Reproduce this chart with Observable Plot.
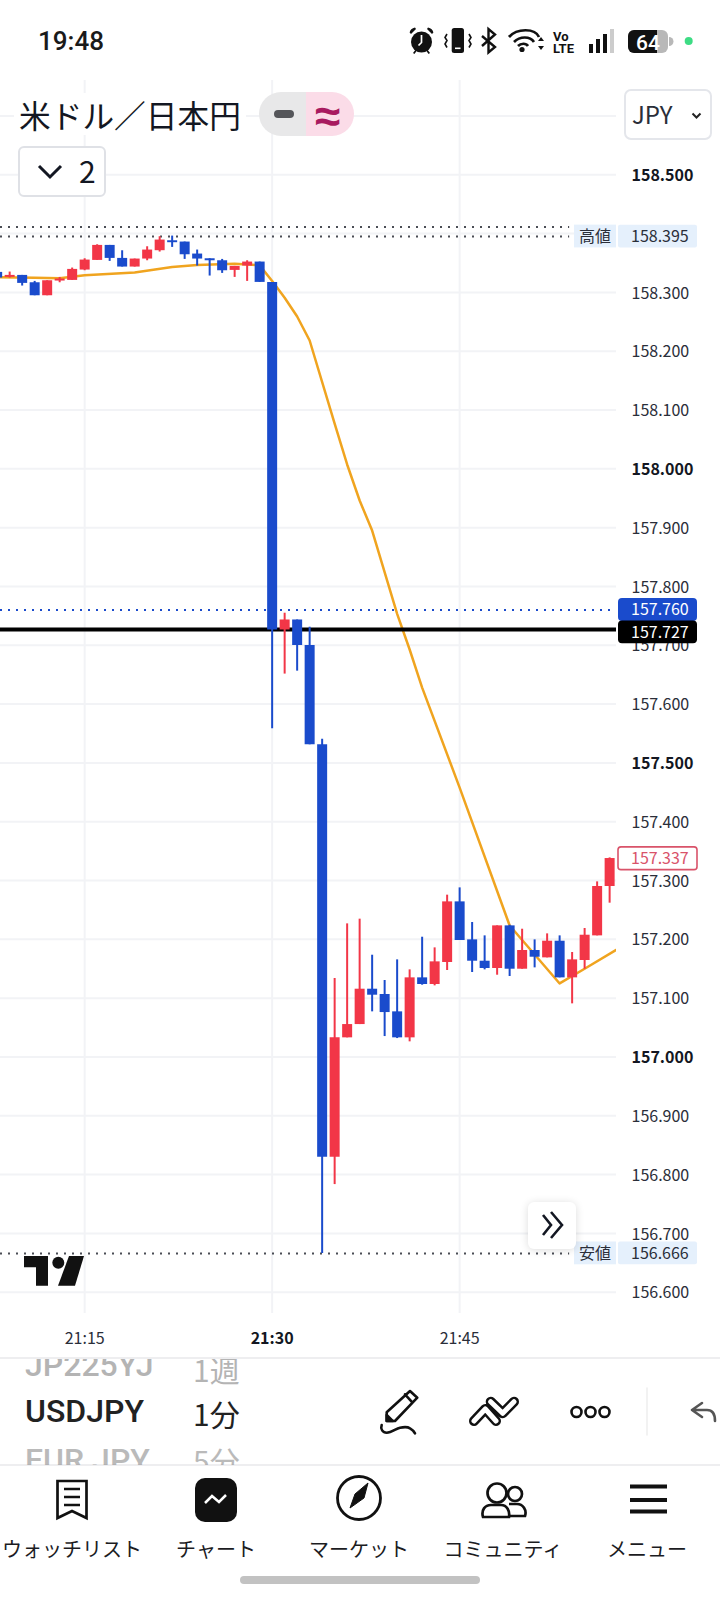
<!DOCTYPE html>
<html lang="ja">
<head>
<meta charset="utf-8">
<script src="https://cdn.jsdelivr.net/npm/d3@7"></script>
<script src="https://cdn.jsdelivr.net/npm/@observablehq/plot@0.6"></script>
<style>
html,body{margin:0;padding:0;background:#fff;}
#page{position:relative;width:720px;height:1600px;overflow:hidden;font-family:"Noto Sans CJK JP","Noto Sans",sans-serif;color:#131722;}
#page>svg.chart{position:absolute;left:0;top:0;}
.abs{position:absolute;white-space:nowrap;line-height:1;}
svg.ic{position:absolute;left:0;top:0;pointer-events:none;}
.nav{position:absolute;top:1537px;transform:translateX(-50%);font-size:20px;line-height:24px;white-space:nowrap;color:#1c1c1f;}
</style>
</head>
<body>
<div id="page"></div>
<script>
const minutes = [8,9,10,11,12,13,14,15,16,17,18,19,20,21,22,23,24,25,26,27,28,29,30,31,32,33,34,35,36,37,38,39,40,41,42,43,44,45,46,47,48,49,50,51,52,53,54,55,56,57];
const opens = [158.334,158.3255,158.3289,158.3164,158.2943,158.3193,158.3204,158.338,158.3544,158.3799,158.3578,158.3431,158.3567,158.3709,158.3878,158.3856,158.3652,158.3572,158.3538,158.3374,158.3448,158.3516,158.317,157.726,157.743,157.6996,157.531,156.8296,157.0325,157.0551,157.1152,157.1062,157.0767,157.0325,157.1345,157.1232,157.1606,157.2637,157.1991,157.1628,157.1504,157.2229,157.1492,157.181,157.1685,157.1968,157.1345,157.164,157.2059,157.2898];
const highs = [158.334,158.3346,158.3289,158.3187,158.3198,158.3255,158.3414,158.3572,158.381,158.3799,158.3708,158.3567,158.3776,158.3947,158.3958,158.3856,158.372,158.3572,158.3561,158.3442,158.3538,158.3516,158.317,157.7545,157.743,157.7307,157.54,157.1334,157.2263,157.2343,157.173,157.13,157.1651,157.1481,157.2036,157.1855,157.2751,157.2875,157.2286,157.2059,157.2229,157.224,157.2172,157.1991,157.2093,157.2059,157.1776,157.2184,157.2977,157.3385];
const lows = [158.3244,158.3244,158.3108,158.2943,158.2943,158.3164,158.3204,158.3368,158.3544,158.3527,158.3431,158.3431,158.3538,158.3686,158.3765,158.3561,158.3448,158.3278,158.3323,158.3255,158.3187,158.317,157.558,157.651,157.656,157.5308,156.666,156.783,157.0325,157.0551,157.0767,157.0347,157.0313,157.0257,157.122,157.1209,157.147,157.198,157.1436,157.1481,157.139,157.1368,157.1492,157.1515,157.1685,157.1345,157.0903,157.1492,157.2059,157.2615];
const closes = [158.3244,158.3289,158.3153,158.2943,158.3198,158.3227,158.3391,158.355,158.3799,158.3578,158.3431,158.3567,158.372,158.389,158.3845,158.364,158.3567,158.3538,158.3368,158.3442,158.3516,158.317,157.726,157.743,157.6996,157.5308,156.8296,157.0325,157.0551,157.1152,157.105,157.0755,157.0325,157.1345,157.1232,157.1617,157.2637,157.198,157.1628,157.1504,157.2229,157.1492,157.181,157.1696,157.1968,157.1345,157.1651,157.207,157.2898,157.3374];
const maMinutes = [8,11,13,15,19,22,24,27,29,30,31,32,33,35,36,37,38,40,41,42,45,49,53,55,58];
const maValues = [158.326,158.325,158.324,158.329,158.334,158.343,158.3466,158.3487,158.346,158.3194,158.2909,158.259,158.2182,158.077,158.0074,157.9462,157.895,157.7534,157.6928,157.628,157.458,157.2236,157.125,157.15,157.188];
const priceTicks = [158.6,158.5,158.4,158.3,158.2,158.1,158,157.9,157.8,157.7,157.6,157.5,157.4,157.3,157.2,157.1,157,156.9,156.8,156.7,156.6];
const boldPrices = [158.5,158,157.5,157];
const hiddenLabels = [158.6];
const timeTicks = [15,30,45];
const boldTimes = [30];
const highPrice = 158.395, prevHigh = 158.411, lowPrice = 156.666, bidPrice = 157.76, linePrice = 157.727, lastPrice = 157.337;

const BLUE = "#1a4bcc", RED = "#f23647", ORANGE = "#f0a41f", GRID = "#f2f3f6";
const FONT = '"Noto Sans CJK JP","Noto Sans",sans-serif';
const at = m => new Date(Date.UTC(2024, 0, 1, 21, 0, m * 60));
const candles = minutes.map((m, i) => ({t: at(m), o: opens[i], h: highs[i], l: lows[i], c: closes[i], dir: closes[i] >= opens[i] ? "up" : "down"}));
const ma = maMinutes.map((m, i) => ({t: at(m), v: maValues[i]}));
const dotEnd = at(53.8);
const timeFmt = d3.utcFormat("%H:%M");
const plainPrices = priceTicks.filter(p => !boldPrices.includes(p) && !hiddenLabels.includes(p));

function tag(price, labelY, box, textColor, text, side) {
  return (index, {y}) => {
    const g = d3.create("svg:g").attr("font-family", FONT).attr("font-size", 16).attr("text-anchor", "start");
    const cy = y(price) + (labelY || 0);
    g.append("rect").attr("x", 618).attr("y", cy - 11.4).attr("width", 79).attr("height", 22.8).attr("rx", box.rx).attr("fill", box.fill).attr("stroke", box.stroke || "none").attr("stroke-width", 1.6);
    if (side) {
      g.append("rect").attr("x", 574).attr("y", cy - 11.4).attr("width", 42).attr("height", 22.8).attr("fill", box.fill);
      g.append("text").attr("x", 611).attr("y", cy + 0.5).attr("dy", ".36em").attr("text-anchor", "end").attr("fill", "#2a2e39").text(side);
    }
    g.append("text").attr("x", 631).attr("y", cy + 0.5).attr("dy", ".34em").attr("fill", textColor).text(text);
    return g.node();
  };
}

const chart = Plot.plot({
  width: 720, height: 1360,
  marginLeft: 0, marginRight: 104, marginTop: 80, marginBottom: 47,
  style: {background: "transparent", fontFamily: FONT, fontSize: "16px", color: "#2a2e39", overflow: "visible"},
  x: {type: "utc", domain: [at(8.28), at(57.56)], axis: null},
  y: {domain: [156.5638, 158.6603], axis: null},
  color: {domain: ["up", "down"], range: [RED, BLUE]},
  marks: [
    Plot.ruleX(timeTicks.map(at), {stroke: GRID, strokeWidth: 2}),
    Plot.ruleY(priceTicks, {stroke: GRID, strokeWidth: 2}),
    Plot.ruleY([prevHigh, highPrice, lowPrice], {x1: () => at(8.28), x2: () => dotEnd, stroke: "#4a4d55", strokeWidth: 2, strokeDasharray: "2 6"}),
    Plot.ruleY([bidPrice], {x1: () => at(8.28), x2: () => at(57.1), stroke: BLUE, strokeWidth: 2, strokeDasharray: "2 6"}),
    Plot.lineY(ma, {x: "t", y: "v", stroke: ORANGE, strokeWidth: 2.5, clip: true}),
    Plot.ruleY([linePrice], {stroke: "#000", strokeWidth: 4}),
    Plot.ruleX(candles, {x: "t", y1: "l", y2: "h", stroke: "dir", strokeWidth: 2}),
    Plot.ruleX(candles, {x: "t", y1: "o", y2: "c", stroke: "dir", strokeWidth: 10}),
    Plot.axisY(plainPrices, {anchor: "right", tickSize: 0, tickPadding: 15, dy: 1, tickFormat: d3.format(".3f"), label: null, fill: "#2a2e39"}),
    Plot.axisY(boldPrices, {anchor: "right", tickSize: 0, tickPadding: 15, dy: 1, tickFormat: d3.format(".3f"), label: null, fontWeight: 700, fill: "#131722"}),
    Plot.axisX(timeTicks.filter(t => !boldTimes.includes(t)).map(at), {tickSize: 0, tickPadding: 19, tickFormat: timeFmt, label: null, fill: "#2a2e39"}),
    Plot.axisX(boldTimes.map(at), {tickSize: 0, tickPadding: 19, tickFormat: timeFmt, label: null, fontWeight: 700, fill: "#131722"}),
    tag(highPrice, 0, {fill: "#e5f0fc", rx: 2}, "#2a2e39", d3.format(".3f")(highPrice), "高値"),
    tag(lowPrice, 0, {fill: "#e5f0fc", rx: 2}, "#2a2e39", d3.format(".3f")(lowPrice), "安値"),
    tag(bidPrice, 0, {fill: BLUE, rx: 4}, "#fff", d3.format(".3f")(bidPrice)),
    tag(linePrice, 3, {fill: "#000", rx: 4}, "#fff", d3.format(".3f")(linePrice)),
    tag(lastPrice, 0, {fill: "#fff", stroke: "#d9536a", rx: 3}, "#d9536a", d3.format(".3f")(lastPrice))
  ]
});
chart.classList.add("chart");
const page = document.getElementById("page");
page.appendChild(chart);

const html = `
<div class="abs" style="left:0;top:1352px;width:720px;height:248px;background:#fff"></div>
<div class="abs" style="left:0;top:1357px;width:720px;height:2px;background:#eeeef0"></div>
<div class="abs" style="left:0;top:1464px;width:720px;height:2px;background:#eeeef0"></div>

<div class="abs" style="left:38px;top:27px;font:500 26px/28px Roboto,sans-serif;color:#1a1a1a">19:48</div>

<div class="abs" style="left:14px;top:93px;padding:0 5px;background:#fff;font-size:31.7px;line-height:42px;color:#131722">米ドル／日本円</div>
<div class="abs" style="left:258.5px;top:92px;width:47.5px;height:44px;background:#e8e8e9;border-radius:22px 0 0 22px"></div>
<div class="abs" style="left:306px;top:92px;width:47.5px;height:44px;background:#fbdce8;border-radius:0 22px 22px 0"></div>
<div class="abs" style="left:274px;top:110px;width:20px;height:8px;background:#55565a;border-radius:4px"></div>
<div class="abs" style="left:306px;top:90px;width:43px;height:48px;text-align:center;font:700 46px/48px 'Noto Sans',sans-serif;color:#a81a60">≈</div>
<div class="abs" style="left:624px;top:88.500px;width:84px;height:47px;background:#fff;border:2px solid #e4e6eb;border-radius:7px"></div>
<div class="abs" style="left:632px;top:99px;font-size:24px;line-height:30px;color:#2a2e39">JPY</div>
<div class="abs" style="left:17.500px;top:146px;width:84px;height:47px;background:#fff;border:2px solid #dfe1e6;border-radius:6px"></div>
<div class="abs" style="left:79px;top:151px;font-size:30px;line-height:38px;color:#131722">2</div>

<div class="abs" style="left:528px;top:1202px;width:48px;height:47px;background:#fff;border-radius:6px;box-shadow:0 1px 8px rgba(0,0,0,.14)"></div>

<div class="abs" style="left:25px;top:1359px;width:135px;height:23px;overflow:hidden;font:500 32px/12px Roboto,sans-serif;color:#777;opacity:.55">JP225YJ</div>
<div class="abs" style="left:193px;top:1359px;width:60px;height:26px;overflow:hidden;font-size:30px;line-height:20px;color:#777;opacity:.55">1週</div>
<div class="abs" style="left:25px;top:1394px;font:500 32px/34px Roboto,sans-serif;color:#222">USDJPY</div>
<div class="abs" style="left:193px;top:1393px;font-size:30px;line-height:40px;color:#222">1分</div>
<div class="abs" style="left:25px;top:1442px;width:135px;height:23px;overflow:hidden;font:500 32px/36px Roboto,sans-serif;color:#777;opacity:.5">EUR JPY</div>
<div class="abs" style="left:193px;top:1442px;width:60px;height:23px;overflow:hidden;font-size:30px;line-height:36px;color:#777;opacity:.5">5分</div>

<div class="nav" style="left:72px">ウォッチリスト</div>
<div class="nav" style="left:216px">チャート</div>
<div class="nav" style="left:359px">マーケット</div>
<div class="nav" style="left:503px">コミュニティ</div>
<div class="nav" style="left:647px">メニュー</div>
<div class="abs" style="left:240px;top:1576px;width:240px;height:8px;background:#c2c2c2;border-radius:4px"></div>

<svg class="ic" width="720" height="1600" viewBox="0 0 720 1600">
  <path d="M39 166l11 11 11-11" fill="none" stroke="#131722" stroke-width="3"/>
  <path d="M692.500 113.500l4 4 4-4" fill="none" stroke="#222" stroke-width="2"/>
  <path d="M543 1215l8 10-8 10M551 1212l11 13-11 13" fill="none" stroke="#131722" stroke-width="2.600"/>
  <g fill="#111"><path d="M24 1256h24v29.700H36v-18.400H24z"/><circle cx="58.300" cy="1262.700" r="6"/><path d="M69 1256h15l-9 29.700H58z"/></g>
  <g fill="#111">
    <circle cx="421.500" cy="42" r="10.500"/><path d="M421.500 35v7.500l-3 3" stroke="#fff" stroke-width="1.700" fill="none"/>
    <path d="M411 34l5-5 -1-1.500c-3 .6-5 2.500-5.400 5zM432 34l-5-5 1-1.500c3 .6 5 2.500 5.400 5z"/>
    <path d="M413 53l3-4 1.400 1-3 4zM430 53l-3-4-1.400 1 3 4z"/>
    <rect x="451.700" y="28" width="12.300" height="25" rx="2.500"/><rect x="455" y="47.500" width="5.500" height="1.600" fill="#fff"/>
    <circle cx="522" cy="49.500" r="2.600"/>
    <rect x="589" y="44" width="4" height="9"/><rect x="596" y="39" width="4" height="14"/><rect x="603" y="34" width="4" height="19"/><rect x="610" y="29" width="4" height="24" fill="#ccc"/>
    <rect x="628" y="30" width="40" height="23" rx="6" fill="#b8b8b8"/><path d="M634 30h23v23h-23a6 6 0 0 1-6-6V36a6 6 0 0 1 6-6z"/><path d="M669 37a4 4 0 0 1 0 9z" fill="#b8b8b8"/>
    <path d="M541 37l3 4h-6zM541 50l3-4h-6z"/>
  </g>
  <g fill="none" stroke="#111" stroke-width="2">
    <path d="M447 34l-2 3.500 2 3-2 3.500 2 3.500M469 34l2 3.500-2 3 2 3.500-2 3.500" stroke-width="1.600"/>
    <path d="M482 36l13 11-6.500 5.500V29L495 34.500 482 46" stroke-width="2.400"/>
    <path d="M509 37c8-9 26-9 30 0M514 42c6-6 16-6 20 0M518 46c3-3 8-3 10 0" stroke-width="2.700"/>
  </g>
  <text x="553" y="41" font-family="Roboto" font-weight="700" font-size="13" fill="#111">Vo</text>
  <text x="553" y="53" font-family="Roboto" font-weight="700" font-size="13" fill="#111">LTE</text>
  <text x="636" y="49.500" font-family="Roboto" font-weight="500" font-size="21" fill="#fff">64</text>
  <circle cx="688.700" cy="41" r="4" fill="#3ddc84"/>
  <g fill="none" stroke="#111" stroke-width="2.600" stroke-linejoin="round" stroke-linecap="round">
    <path d="M386.700 1421v-8.700L410 1391l7.300 6.700L395 1421zM405 1394.300l7.300 8"/>
    <path d="M386.700 1421v-6l6 6z" fill="#111"/>
    <path d="M381.700 1425c-1.500 4 1 7.700 5 7.700 5 0 9-4 13.300-5 4-.8 8-.7 10 .6 2.500 1.400 4 3 5 5"/>
    <circle cx="576.500" cy="1412" r="5"/><circle cx="590.500" cy="1412" r="5"/><circle cx="604.500" cy="1412" r="5"/>
    <path d="M702 1403l-10 7 10 7M692 1410h15c5 0 8 4 8 11" stroke="#555"/>
    <path d="M647 1388v47" stroke="#eee" stroke-width="1.500"/>
  </g>
  <g fill="none" stroke-linecap="round" stroke-linejoin="round">
    <path d="M474 1421l11.300-12 10.700 12M490.700 1401.700l12 11.600 11.300-11.600" stroke="#111" stroke-width="10"/>
    <path d="M474 1421l11.300-12 10.700 12M490.700 1401.700l12 11.600 11.300-11.600" stroke="#fff" stroke-width="5"/>
  </g>
  <g fill="none" stroke="#111" stroke-width="2.700">
    <path d="M57.500 1481h29v37l-14.500-7-14.500 7z"/><path d="M64 1489h16M64 1497h16M64 1505h16" stroke-width="2.500"/>
    <circle cx="359" cy="1498" r="21.500" stroke-width="2.800"/>
    <path d="M350 1508l5-14 13-11-4 15z" fill="#111" stroke-width="1"/>
    <circle cx="497" cy="1493" r="9.500"/><circle cx="515" cy="1494" r="7"/>
    <path d="M483 1517c-2-7 2-12 8-12h10c6 0 9 6 8 12zM509 1504h8c6 0 10 6 8 12h-15"/>
    <path d="M630 1486.500h37M630 1500h37M630 1511.500h37" stroke-width="4"/>
  </g>
  <rect x="195" y="1478" width="42" height="44" rx="10" fill="#111"/>
  <path d="M205 1503l7-7 7 6 7-7" fill="none" stroke="#fff" stroke-width="2.500"/>
</svg>`;
page.insertAdjacentHTML("beforeend", html);
</script>
</body>
</html>
